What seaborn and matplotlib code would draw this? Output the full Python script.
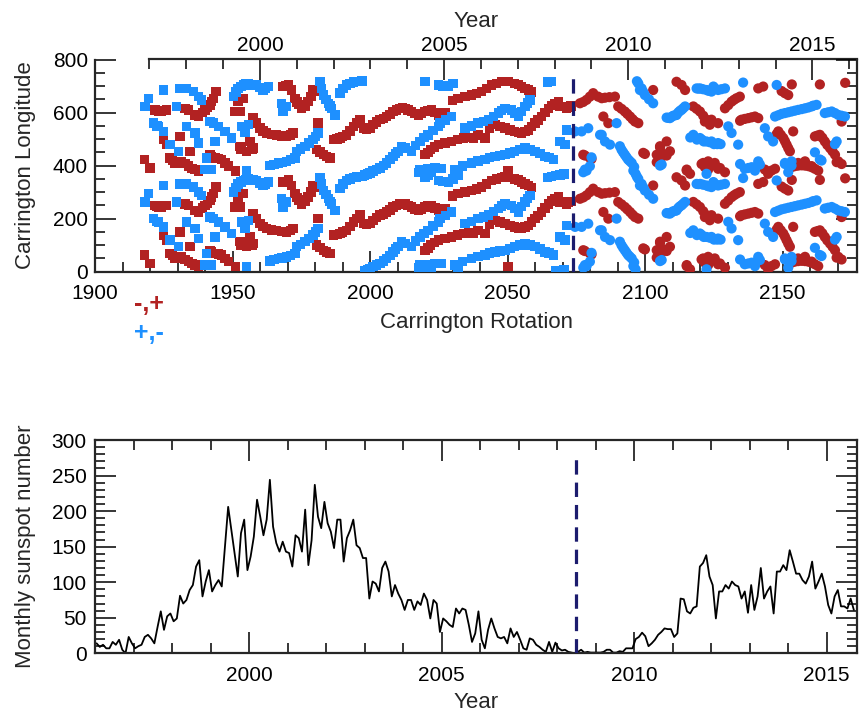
import numpy as np
import pandas as pd
import matplotlib
matplotlib.use("Agg")
import matplotlib.pyplot as plt
import seaborn as sns
from matplotlib.ticker import MultipleLocator, FixedLocator

sns.set_style("ticks")
plt.rcParams["font.family"] = ["Liberation Sans", "DejaVu Sans"]

RED = "#B22222"
BLUE = "#1E90FF"
NAVY = "#1C1C6E"

# ---------------- data: sector boundaries (Carrington rotation, longitude) ----------------
red_squares = [
    (1918, 63), (1920, 31), (1921.8, 250), (1922.5, 247), (1923, 244), (1924.2, 244), (1926, 250),
    (1924.8, 138), (1926, 119), (1927.3, 69), (1928.2, 60), (1929.1, 50), (1930.3, 52),
    (1931.5, 56), (1932.7, 47), (1933.9, 38), (1935.2, 30), (1936.4, 25), (1937.6, 19),
    (1930.9, 150), (1934.5, 94), (1932.7, 256), (1933.9, 250), (1936.4, 231), (1937.6, 225),
    (1939, 240), (1940, 250), (1940.9, 258), (1941.8, 269), (1942.4, 282), (1943, 294), (1944, 320),
    (1941.8, 81), (1942.4, 75), (1943.6, 69), (1944.8, 66), (1946, 63), (1947.3, 50), (1948.5, 38),
    (1950.9, 244), (1952.7, 244), (1952, 281), (1954, 294), (1952.7, 113), (1953, 100),
    (1955, 94), (1957, 100), (1951, 19),
    (1957.5, 219), (1958.7, 200), (1960, 181), (1961.1, 170), (1962.4, 163), (1964.2, 158),
    (1966, 156), (1967.8, 152), (1969.6, 150), (1971, 155), (1972, 163),
    (1956.3, 131), (1957.5, 106), (1968.4, 338), (1969.5, 340), (1970.3, 346), (1971.5, 325),
    (1972.7, 294), (1973.5, 280), (1974, 270), (1975.1, 256), (1976.3, 265), (1977.5, 281),
    (1978.5, 300), (1979.3, 325), (1980.5, 322), (1981.8, 319), (1981.1, 200),
    (1980.5, 100), (1981.8, 92), (1983, 81), (1984.2, 75), (1985.4, 69),
    (1986.6, 138), (1988, 140), (1989, 144), (1990, 150), (1991.5, 156), (1992.7, 170),
    (1993.9, 188), (1995, 200), (1996.3, 213), (1997.5, 181), (1998.7, 178), (2000, 181),
    (2001.1, 194), (2002.4, 205), (2003.6, 213), (2004.8, 218), (2006, 225), (2007.2, 232),
    (2008.4, 244), (2009.6, 250), (2010.8, 256), (2011.7, 258), (2012.65, 256), (2013.8, 250),
    (2015, 244), (2016.2, 236), (2017.5, 231), (2018.7, 236), (2020, 244), (2021.1, 248),
    (2022.3, 250), (2023.6, 240), (2024.8, 231), (2026, 233), (2027.2, 238),
    (2030, 285), (2032, 294), (2034.5, 300), (2036.9, 306), (2038.7, 312), (2040.5, 319),
    (2042.4, 330), (2044.2, 344), (2046, 350), (2047.8, 356), (2049, 357), (2050.2, 358),
    (2052.6, 350), (2053.9, 345), (2055.1, 338), (2056.3, 330), (2057.5, 325), (2058.7, 318),
    (2039.3, 156), (2041.7, 144), (2043.5, 180), (2045.4, 194), (2047.2, 188), (2049, 181),
    (2050.8, 175), (2052.6, 169), (2053.9, 165), (2055.1, 163), (2056.3, 168), (2057.5, 175),
    (2058.7, 188), (2059.9, 200), (2061.1, 212), (2062.3, 225), (2063.6, 240), (2064.8, 256),
    (2066, 266), (2067.2, 275), (2068.4, 281), (2069, 263), (2070, 262), (2071.4, 256),
    (2072, 260), (2073, 265),
    (2019.9, 81), (2021, 90), (2022, 100), (2023.5, 110), (2024.8, 119), (2027.2, 125),
    (2029.6, 131), (2031.8, 138), (2033.9, 144), (2035.7, 146), (2037.5, 144), (2050.2, 19),
]
blue_squares = [
    (1918.2, 263), (1919.4, 294), (1924.8, 325), (1929.7, 263), (1930.9, 331), (1933.3, 331),
    (1935.8, 319), (1937.6, 300), (1938.8, 288), (1921.2, 200), (1922.5, 190), (1923, 188),
    (1924.8, 169), (1933.3, 188), (1936.4, 163), (1937.6, 125), (1927.3, 119), (1930.3, 94),
    (1940.6, 69), (1940, 25), (1942.4, 25), (1941.8, 206), (1943, 200), (1944.8, 188),
    (1947.3, 169), (1949.7, 144), (1943.6, 131), (1950.3, 300), (1951.2, 318), (1952, 331),
    (1953, 338), (1954, 344), (1954.9, 347), (1955.8, 350), (1953.3, 188), (1954.5, 165),
    (1955.8, 194), (1955, 19), (1956.3, 344), (1957.5, 345), (1958.7, 344), (1960, 335),
    (1961.1, 325), (1962, 330), (1963, 338),
    (1963.6, 40), (1965, 45), (1966.6, 50), (1968, 52), (1969.6, 56), (1971, 62), (1972.7, 69),
    (1973.3, 94), (1974.8, 103), (1976.3, 113), (1977.8, 125), (1979.3, 138), (1980.2, 150),
    (1981.1, 163), (1967.8, 275), (1969.6, 263), (1968.4, 244),
    (1981.8, 356), (1982.4, 330), (1983, 306), (1984, 290), (1984.8, 275), (1985.4, 265),
    (1986, 256), (1987.2, 231),
    (1989, 313), (1990.2, 330), (1991.5, 344), (1992.7, 350), (1993.9, 355), (1995, 357),
    (1996, 358), (1997, 359), (1998, 5), (1999, 8), (2000, 12), (2001.1, 19), (2002.4, 25),
    (2003.6, 31), (2004.8, 40), (2006, 50), (2007.2, 62), (2008.4, 75), (2009.2, 85),
    (2010.2, 94), (2011.5, 113), (2012.65, 106), (2015, 95), (2016.5, 115), (2018.1, 131),
    (2019.6, 145), (2021.1, 156), (2022.9, 172), (2024.8, 188), (2025.4, 200), (2027.5, 212),
    (2029.6, 225),
    (2034.5, 181), (2036.9, 190), (2039.3, 200), (2041.2, 206), (2043, 213), (2044.8, 226),
    (2046.6, 238), (2047.8, 248), (2049, 256), (2051.4, 250), (2052.6, 238), (2053.9, 225),
    (2055, 245), (2056.3, 263), (2057.2, 276), (2058.1, 288),
    (2018.1, 25), (2020.8, 28), (2023.6, 31), (2026, 30), (2030.8, 25), (2033.5, 38),
    (2036.9, 50), (2039.3, 57), (2041.7, 63), (2043.5, 70), (2045.4, 75), (2047.2, 78),
    (2049, 81), (2050.8, 88), (2052.6, 94), (2054.5, 100), (2056.3, 106), (2058.1, 100),
    (2059.9, 94), (2061.8, 85), (2063.6, 75), (2065, 70), (2066.6, 63),
    (2017.5, 15), (2019.9, 356), (2021, 5), (2022.3, 15), (2024.8, 344), (2026.5, 340),
    (2028.4, 338), (2030.2, 350), (2032, 5), (2064.5, 355), (2066, 358), (2067.5, 2),
    (2069, 5), (2070.5, 8), (2069, 131), (2070.8, 119), (2071.4, 175),
]
red_circles = [
    (2076.3, 275), (2077.5, 280), (2078.7, 288), (2079.9, 300), (2081.1, 313), (2082.9, 300),
    (2084.2, 294), (2085.4, 296), (2087, 298), (2089, 300),
    (2078.1, 78), (2080.5, 65), (2077.5, 81), (2079.9, 69), (2084.8, 225), (2086.6, 200),
    (2090.2, 263), (2091.4, 254), (2092.6, 244), (2093.5, 235), (2094.5, 225), (2095.4, 215),
    (2096.3, 206), (2097.5, 200), (2099.3, 88), (2099.9, 84), (2104.2, 53), (2105.4, 109),
    (2106.6, 84), (2107.8, 78), (2102.9, 325), (2105.4, 113), (2107.8, 131), (2109, 94),
    (2104.2, 81), (2105.4, 56), (2111.4, 356), (2113.2, 344), (2114.5, 325), (2115.1, 21),
    (2116.3, 9), (2117.5, 263), (2118.7, 254), (2119.9, 244), (2121.1, 228), (2122.3, 213),
    (2123.5, 194), (2120.5, 46), (2122.3, 34), (2115.1, 25), (2121.1, 50), (2122.9, 25),
    (2121.7, 34), (2124.1, 40), (2126.5, 28), (2129, 15), (2121.7, 206), (2124.1, 213),
    (2126.5, 200), (2129, 256), (2130.2, 268), (2131.4, 281), (2132.3, 288), (2133.2, 294),
    (2134.4, 300), (2134.5, 209), (2135, 213), (2136.2, 216), (2137.5, 219), (2138.7, 222),
    (2139.9, 225), (2141.1, 219), (2141.1, 331), (2142.9, 338), (2144.7, 9), (2145.9, 21),
    (2147.2, 28), (2149.6, 321), (2150.8, 313), (2152, 306), (2153.3, 346), (2153.2, 34),
    (2154.4, 38), (2155.6, 40), (2156.9, 41), (2158.1, 40), (2159.3, 38), (2160.5, 34),
    (2161.7, 28), (2162.9, 21), (2147.8, 159), (2148.4, 169), (2149.3, 156), (2150.2, 144),
    (2150.8, 132), (2151.4, 119), (2152, 106), (2152.6, 94), (2153.8, 169), (2161.7, 150),
    (2162.6, 153), (2163.5, 156), (2164.4, 145), (2165.3, 131), (2166.2, 118), (2167.2, 106),
    (2168.1, 94), (2169, 81), (2169.6, 53), (2171.4, 46), (2171.4, 206), (2170.2, 56),
    (2122.9, 56), (2125.3, 50), (2127.2, 31), (2155.6, 50), (2158.1, 56), (2160.5, 38),
    (2143.5, 25), (2163.5, 346), (2172.7, 352),
]
blue_circles = [
    (2074.5, 169), (2076.9, 169), (2079.3, 181), (2077.5, 15), (2078.1, 25), (2078.7, 21),
    (2079.9, 38), (2080.5, 71), (2083.6, 156), (2084.2, 156), (2085.4, 131), (2087.2, 119),
    (2089.6, 200), (2090.8, 113), (2091.4, 100), (2092, 90), (2092.6, 81), (2093.2, 72),
    (2093.8, 63), (2094.4, 57), (2095.1, 50), (2095.7, 21), (2096, 35), (2096.5, 9),
    (2097, 358), (2097.5, 350), (2098.1, 325), (2098.7, 331), (2099.3, 318), (2099.9, 306),
    (2101.4, 290), (2102.9, 275), (2105.4, 40), (2106, 44), (2107.8, 221), (2108.4, 220),
    (2109, 219), (2109.6, 224), (2110.2, 228), (2111, 230), (2111.4, 231), (2112, 240),
    (2112.6, 246), (2113.2, 250), (2113.8, 256), (2114.5, 263), (2116.4, 146), (2117.5, 156),
    (2118.8, 138), (2119.9, 144), (2120.6, 138), (2121.3, 131), (2122.3, 131), (2123.5, 128),
    (2125, 121), (2126.2, 121), (2127.4, 121), (2118.7, 331), (2119.4, 330), (2120, 331),
    (2121, 328), (2122.3, 325), (2123, 322), (2124.1, 319), (2124.8, 338), (2125.5, 330),
    (2126.5, 325), (2127.7, 328), (2129, 331), (2122.3, 9), (2124.1, 131), (2126.5, 125),
    (2130.2, 188), (2131.4, 163), (2133.8, 119), (2134.5, 46), (2135.6, 353), (2136.2, 28),
    (2137.5, 31), (2138.7, 34), (2139.9, 21), (2141.1, 46), (2141.1, 56), (2141.7, 44),
    (2143.5, 181), (2144.7, 150), (2146.5, 131), (2147.8, 344), (2150.8, 46), (2152, 15),
    (2153.2, 40), (2150.8, 50), (2153.2, 56), (2147.2, 225), (2148.4, 230), (2149.6, 235),
    (2150.8, 238), (2152, 241), (2153.2, 244), (2154.4, 247), (2155.6, 250), (2156.9, 253),
    (2158.1, 256), (2159.3, 259), (2160.5, 263), (2161.1, 266), (2162.3, 269), (2165.3, 238),
    (2166.5, 241), (2167.8, 244), (2169, 238), (2170.2, 231), (2171.4, 228), (2172.6, 225),
    (2161.7, 90), (2163.5, 63), (2164.1, 59), (2169, 121), (2169.6, 131),
]

# monthly sunspot number, monthly from Jan 1996
ssn_start = 1996.0
ssn = [
    14, 9, 12, 7, 7, 16, 12, 19, 5, 0, 23, 14, 7, 10, 12, 23, 26, 21, 14, 37, 59, 33, 52, 56,
    45, 49, 81, 70, 75, 89, 96, 122, 131, 80, 101, 117, 87, 96, 103, 94, 150,
    206, 173, 141, 108, 169, 188, 117, 136, 164, 216, 192, 166, 188, 244, 178, 155, 143, 157,
    143, 141, 122, 166, 162, 143, 202, 124, 159, 237, 192, 176, 213, 183, 171, 148, 188, 188,
    129, 162, 173, 188, 152, 148, 134, 134, 77, 101, 98, 87, 120, 129, 115, 80, 96, 84, 75, 61,
    75, 75, 61, 73, 68, 84, 75, 49, 75, 70, 30, 49, 45, 40, 37, 63, 56, 63, 61, 40,
    16, 28, 59, 19, 7, 33,
    49, 35, 23, 21, 23, 14, 35, 23, 30, 19, 7, 5, 21, 19, 12, 9, 5, 2, 16, 2, 15, 7, 4, 5, 2,
    1, 0, 2, 5, 1, 2, 1, 1, 1, 1, 2, 5, 5, 1, 1, 3, 2, 7, 7, 7, 20, 23, 29, 24, 10, 14, 19, 26,
    30, 35, 34, 34, 23, 28, 77, 76, 59, 56, 64, 66, 122, 127, 138, 108, 96, 49, 87, 87, 96, 91,
    101, 96, 94, 77, 87, 57, 96, 61, 80, 120, 77, 87, 94, 56, 115, 115, 124, 117, 145, 129,
    112, 112, 103, 98, 108, 129, 91, 101, 112, 94, 68, 56, 80, 89, 66, 66, 63, 77, 61,
]
transition_cr = 2073.7
transition_year = 2008.5

cr_ticks = [1900, 1950, 2000, 2050, 2100, 2150]
year_ticks = [2000, 2005, 2010, 2015]
lon_ticks = [0, 200, 400, 600, 800]
ssn_ticks = [0, 50, 100, 150, 200, 250, 300]


def boundary_frame(pairs, pol):
    cr = [p[0] for p in pairs]
    lon = [p[1] for p in pairs]
    # each boundary is plotted twice: at its longitude and one full turn (360) higher
    return pd.DataFrame({"cr": cr + cr, "lon": lon + [v + 360 for v in lon], "pol": pol})


sq = pd.concat([boundary_frame(red_squares, "-,+"), boundary_frame(blue_squares, "+,-")])
ci = pd.concat([boundary_frame(red_circles, "-,+"), boundary_frame(blue_circles, "+,-")])
pal = {"-,+": RED, "+,-": BLUE}

fig = plt.figure(figsize=(8.59, 7.14), dpi=100)
ax1 = fig.add_axes([95 / 859, 1 - 271.7 / 714, 762 / 859, 212.2 / 714])
ax2 = fig.add_axes([95 / 859, 1 - 653.3 / 714, 762 / 859, 213.3 / 714])

FS = 15
LFS = 16
TICK_KW = dict(direction="in", width=1.1, colors="black", labelsize=FS)

# ---------------- top panel ----------------
sns.scatterplot(data=sq, x="cr", y="lon", hue="pol", palette=pal, marker="s", s=46,
                linewidth=0, legend=False, ax=ax1, zorder=3)
sns.scatterplot(data=ci, x="cr", y="lon", hue="pol", palette=pal, marker="o", s=54,
                linewidth=0, legend=False, ax=ax1, zorder=3)
ax1.plot([transition_cr, transition_cr], [0, 740], color=NAVY, lw=2.3,
         dashes=(4.5, 2.5), zorder=4)
ax1.set_xlim(1900, 2177)
ax1.set_ylim(0, 800)
ax1.xaxis.set_major_locator(FixedLocator(cr_ticks))
ax1.xaxis.set_minor_locator(MultipleLocator(10))
ax1.yaxis.set_major_locator(FixedLocator(lon_ticks))
ax1.yaxis.set_minor_locator(MultipleLocator(50))
ax1.tick_params(which="both", top=False, right=True, **TICK_KW)
ax1.tick_params(axis="x", which="major", length=15, pad=9)
ax1.tick_params(axis="y", which="major", length=15, pad=5)
ax1.tick_params(which="minor", length=7)
ax1.set_xlabel("Carrington Rotation", fontsize=LFS, labelpad=6)
ax1.set_ylabel("Carrington Longitude", fontsize=LFS, labelpad=12)
ax1.spines["top"].set_visible(False)
for s in ["left", "right", "bottom"]:
    ax1.spines[s].set_linewidth(1.6)


def cr2yr(c):
    return 2000 + (np.asarray(c, dtype=float) - 1959.95) * 0.07468


def yr2cr(y):
    return 1959.95 + (np.asarray(y, dtype=float) - 2000) / 0.07468


sec = ax1.secondary_xaxis("top", functions=(cr2yr, yr2cr))
sec.xaxis.set_major_locator(FixedLocator(year_ticks))
sec.xaxis.set_minor_locator(FixedLocator(list(range(1997, 2017))))
sec.tick_params(which="both", **TICK_KW)
sec.tick_params(which="major", length=15, pad=3)
sec.tick_params(which="minor", length=7)
sec.set_xlabel("Year", fontsize=LFS, labelpad=7)
sec.spines["top"].set_bounds(1997, float(cr2yr(2177)))
sec.spines["top"].set_linewidth(1.6)

fig.text(149 / 859, 1 - 304 / 714, "-,+", color=RED, fontsize=18, fontweight="bold",
         ha="center", va="center")
fig.text(149 / 859, 1 - 333 / 714, "+,-", color=BLUE, fontsize=18, fontweight="bold",
         ha="center", va="center")

# ---------------- bottom panel ----------------
ssn_df = pd.DataFrame({"year": ssn_start + (np.arange(len(ssn)) + 0.5) / 12.0, "ssn": ssn})
sns.lineplot(data=ssn_df, x="year", y="ssn", color="black", lw=1.3, estimator=None,
             sort=False, ax=ax2)
ax2.plot([transition_year, transition_year], [0, 280], color=NAVY, lw=2.3,
         dashes=(4.5, 2.5), zorder=4)
ax2.set_xlim(1996, 2015.79)
ax2.set_ylim(0, 300)
ax2.xaxis.set_major_locator(FixedLocator(year_ticks))
ax2.xaxis.set_minor_locator(MultipleLocator(1))
ax2.yaxis.set_major_locator(FixedLocator(ssn_ticks))
ax2.yaxis.set_minor_locator(MultipleLocator(10))
ax2.tick_params(which="both", top=True, right=True, **TICK_KW)
ax2.tick_params(axis="x", which="major", length=15, pad=9)
ax2.tick_params(axis="y", which="major", length=15, pad=6)
ax2.tick_params(which="minor", length=7)
ax2.set_xlabel("Year", fontsize=LFS, labelpad=5)
ax2.set_ylabel("Monthly sunspot number", fontsize=LFS, labelpad=11)
for s in ax2.spines.values():
    s.set_linewidth(1.6)

fig.savefig("out.png", dpi=100)
